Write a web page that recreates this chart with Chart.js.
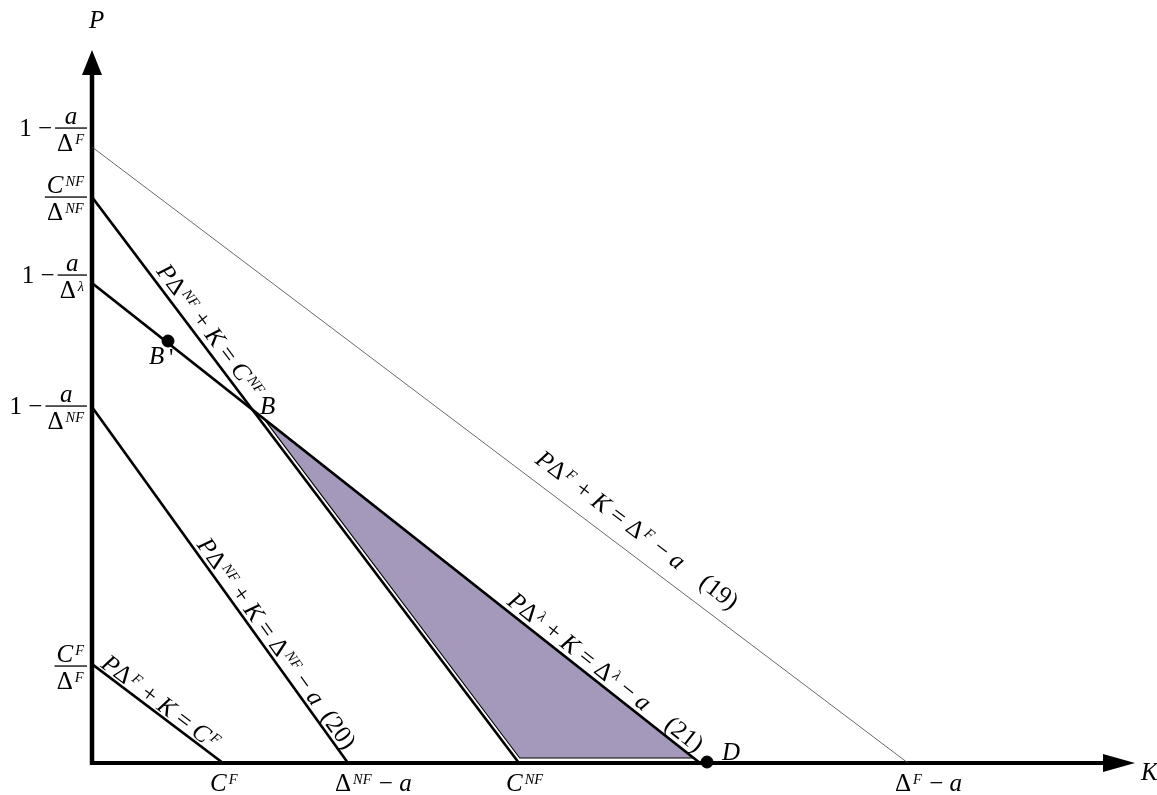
<!DOCTYPE html>
<html><head><meta charset="utf-8">
<script src="https://cdn.jsdelivr.net/npm/chart.js@4.4.0/dist/chart.umd.min.js"></script>
<style>html,body{margin:0;padding:0;background:#fff;}#wrap{width:1157px;height:795px;}</style>
</head><body><div id="wrap"><canvas id="c" width="1157" height="795"></canvas></div>
<script>
// ---- data (K on horizontal axis, P on vertical axis) ----
const lineNames   = ['CF', '20', 'CNF', '21', '19'];
const kIntercepts = [1.31, 2.56, 4.27, 6.08, 8.16];   // where each line meets the K axis
const pIntercepts = [0.99, 3.56, 5.66, 4.80, 6.16];   // where each line meets the P axis
const regionK = [1.716, 4.277, 6.017];                 // shaded region vertices
const regionP = [3.446, 0.05, 0.05];
const pointNames = ["B'", 'D'];
const pointK = [0.76, 6.15];
const pointP = [4.22, 0.01];
const kMax = 10.43, pMax = 7.13;
const kTickIdx = [0, 1, 2, 4];
const kTickLabels = ['C^{F}', 'Δ^{NF} − a', 'C^{NF}', 'Δ^{F} − a'];
const pTickIdx = [4, 2, 3, 1, 0];
const pTickLead = ['1 −', '', '1 −', '1 −', ''];
const pTickNum  = ['a', 'C^{NF}', 'a', 'a', 'C^{F}'];
const pTickDen  = ['Δ^{F}', 'Δ^{NF}', 'Δ^{λ}', 'Δ^{NF}', 'Δ^{F}'];
const lineLabels = ['PΔ^{F} + K = C^{F}', 'PΔ^{NF} + K = Δ^{NF} − a  (20)', 'PΔ^{NF} + K = C^{NF}',
                    'PΔ^{λ} + K = Δ^{λ} − a    (21)', 'PΔ^{F} + K = Δ^{F} − a    (19)'];
const pointB = ['B', 1.65, 3.50];

// ---- styling ----
const SERIF = '"Liberation Serif","DejaVu Serif",serif';
const FS = 25;
const lineWidths = [2.6, 2.6, 2.6, 2.6, 0.8];
const lineColors = ['#000', '#000', '#000', '#000', '#444'];
const lineLabelPos = [ {k:0.06, off:3}, {k:1.01, off:4}, {k:0.59, off:6}, {k:4.11, off:5}, {k:4.33, off:15} ];
const pTickDy = [-19, 0, -8, -1, 2];

function parseRich(str){
  const segs=[]; let i=0;
  const push=(ch,sup)=>{const it=/[A-Za-zλ]/.test(ch);const st=(sup?'s':'')+(it?'i':'r');const last=segs[segs.length-1];if(last&&last[1]===st)last[0]+=ch;else segs.push([ch,st]);};
  while(i<str.length){
    if(str[i]==='^'&&str[i+1]==='{'){const j=str.indexOf('}',i);for(const ch of str.slice(i+2,j))push(ch,true);i=j+1;}
    else{push(str[i],false);i++;}
  }
  return segs;
}
function segFont(st,size){const sup=st[0]==='s';const it=st[st.length-1]==='i';return (it?'italic ':'')+(sup?size*0.58:size).toFixed(1)+'px '+SERIF;}
function richWidth(ctx,str,size){let w=0;for(const [t,st] of parseRich(str)){ctx.font=segFont(st,size);w+=ctx.measureText(t).width+(st[0]==='s'?3:0);}return w;}
function drawRich(ctx,str,x,y,size){
  let cx=x;
  for(const [t,st] of parseRich(str)){
    ctx.font=segFont(st,size);
    const sup=st[0]==='s';
    if(sup) cx+=2;
    ctx.fillText(t,cx,y+(sup?-size*0.3:0));
    cx+=ctx.measureText(t).width+(sup?1:0);
  }
  return cx-x;
}

const decor = {
  id:'decor',
  beforeDatasetsDraw(chart){
    const ctx=chart.ctx, xs=chart.scales.x, ys=chart.scales.y;
    const x0=xs.getPixelForValue(0), y0=ys.getPixelForValue(0);
    const xt=xs.getPixelForValue(kMax), yt=ys.getPixelForValue(pMax);
    ctx.save(); ctx.fillStyle='#000'; ctx.strokeStyle='#000'; ctx.lineCap='butt';
    ctx.lineWidth=4.5; ctx.beginPath(); ctx.moveTo(x0,y0+2); ctx.lineTo(x0,yt+22); ctx.stroke();
    ctx.beginPath(); ctx.moveTo(x0,yt); ctx.lineTo(x0-10,yt+25); ctx.lineTo(x0+10,yt+25); ctx.closePath(); ctx.fill();
    ctx.lineWidth=4; ctx.beginPath(); ctx.moveTo(x0-2,y0); ctx.lineTo(xt-30,y0); ctx.stroke();
    ctx.beginPath(); ctx.moveTo(xt,y0); ctx.lineTo(xt-32,y0-9); ctx.lineTo(xt-32,y0+9); ctx.closePath(); ctx.fill();
    ctx.restore();
  },
  afterDatasetsDraw(chart){
    const ctx=chart.ctx, xs=chart.scales.x, ys=chart.scales.y;
    const x0=xs.getPixelForValue(0), y0=ys.getPixelForValue(0);
    ctx.save(); ctx.fillStyle='#000'; ctx.textBaseline='alphabetic';
    // axis names
    drawRich(ctx,'P',x0-3,28,FS);
    drawRich(ctx,'K',xs.getPixelForValue(kMax)+6,y0+17,FS);
    // K ticks
    kTickIdx.forEach((li,i)=>{drawRich(ctx,kTickLabels[i],xs.getPixelForValue(kIntercepts[li])-13,791,FS);});
    // P ticks (fractions)
    pTickIdx.forEach((li,i)=>{
      const by=ys.getPixelForValue(pIntercepts[li])+pTickDy[i];
      const wn=richWidth(ctx,pTickNum[i],FS), wd=richWidth(ctx,pTickDen[i],FS);
      const bw=Math.max(wn,wd)+4; const bx1=x0-5, bx0=bx1-bw, cx=(bx0+bx1)/2;
      ctx.fillRect(bx0,by-0.6,bw,1.3);
      drawRich(ctx,pTickNum[i],cx-wn/2,by-4,FS);
      drawRich(ctx,pTickDen[i],cx-wd/2,by+23,FS);
      if(pTickLead[i]){const wl=richWidth(ctx,pTickLead[i],FS);drawRich(ctx,pTickLead[i],bx0-wl-3,by+8,FS);}
    });
    // line labels
    lineLabels.forEach((txt,i)=>{
      const ax=xs.getPixelForValue(0), ay=ys.getPixelForValue(pIntercepts[i]);
      const bx=xs.getPixelForValue(kIntercepts[i]), by=ys.getPixelForValue(0);
      const len=Math.hypot(bx-ax,by-ay), ux=(bx-ax)/len, uy=(by-ay)/len;
      const pk=lineLabelPos[i].k, t=(xs.getPixelForValue(pk)-ax)/(bx-ax);
      const px=ax+t*(bx-ax)+uy*lineLabelPos[i].off, py=ay+t*(by-ay)-ux*lineLabelPos[i].off;
      ctx.save(); ctx.translate(px,py); ctx.rotate(Math.atan2(uy,ux)); drawRich(ctx,txt,0,0,FS); ctx.restore();
    });
    // point labels
    ctx.font='italic '+FS+'px '+SERIF;
    const bpx=xs.getPixelForValue(pointK[0]), bpy=ys.getPixelForValue(pointP[0]);
    ctx.fillText('B',bpx-19,bpy+23); ctx.font=FS+'px '+SERIF; ctx.fillText("'",bpx+1,bpy+25);
    ctx.font='italic '+FS+'px '+SERIF;
    ctx.fillText(pointB[0],xs.getPixelForValue(pointB[1])+3,ys.getPixelForValue(pointB[2])+1);
    ctx.fillText('D',xs.getPixelForValue(pointK[1])+15,ys.getPixelForValue(pointP[1])-2);
    ctx.restore();
  }
};

const datasets=[];
datasets.push({label:'region',data:regionK.map((k,i)=>({x:k,y:regionP[i]})).concat([{x:regionK[0],y:regionP[0]}]),
  showLine:true,fill:'shape',backgroundColor:'rgb(164,153,186)',borderColor:'#000',borderWidth:1.1,pointRadius:0,order:10,tension:0});
lineNames.forEach((n,i)=>{
  datasets.push({label:n,data:[{x:0,y:pIntercepts[i]},{x:kIntercepts[i],y:0}],showLine:true,fill:false,
    borderColor:lineColors[i],borderWidth:lineWidths[i],pointRadius:0,order:5,borderCapStyle:'butt'});
});
datasets.push({label:'points',data:pointK.map((k,i)=>({x:k,y:pointP[i]})),showLine:false,pointRadius:6,
  pointBackgroundColor:'#000',pointBorderColor:'#000',order:0,clip:false});

new Chart(document.getElementById('c'),{
  type:'scatter',
  data:{datasets},
  options:{responsive:false,devicePixelRatio:1,animation:false,
    layout:{padding:{left:92,right:22,top:50,bottom:32}},
    plugins:{legend:{display:false},tooltip:{enabled:false}},
    scales:{x:{type:'linear',min:0,max:kMax,display:false},y:{type:'linear',min:0,max:pMax,display:false}}},
  plugins:[decor]
});
</script></body></html>
